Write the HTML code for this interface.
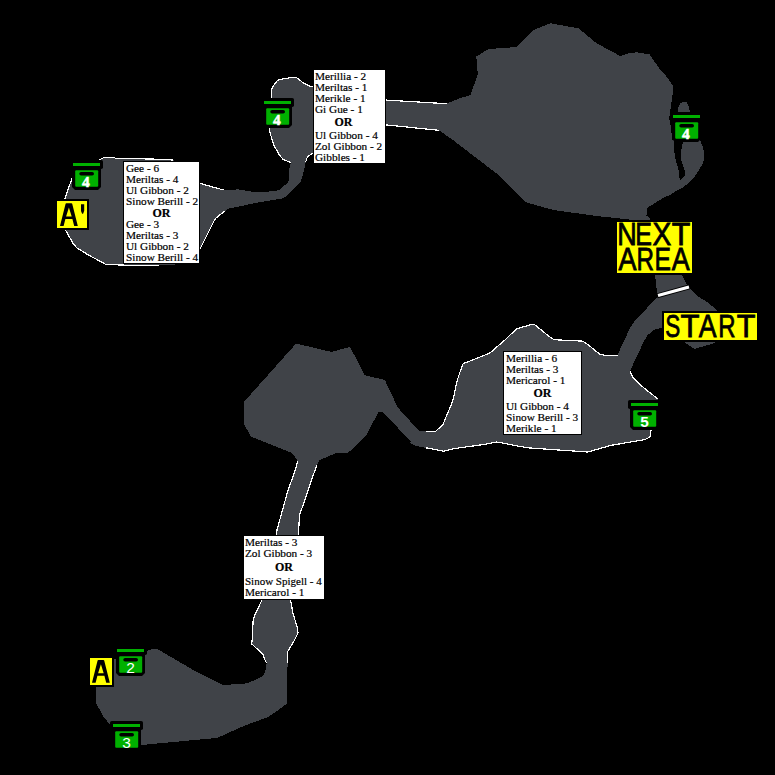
<!DOCTYPE html>
<html><head><meta charset="utf-8">
<style>
html,body{margin:0;padding:0;background:#000;width:775px;height:775px;overflow:hidden;}
#wrap{position:relative;width:775px;height:775px;background:#000;}
svg{position:absolute;left:0;top:0;}
.box{position:absolute;background:#fff;border:1px solid #000;font-family:"Liberation Serif",serif;font-size:11.25px;line-height:11px;color:#000;white-space:nowrap;-webkit-text-stroke:0.2px #000;}
.box div{position:absolute;left:0;}
.box .or{font-weight:bold;font-size:12px;}
</style></head><body><div id="wrap">
<svg width="775" height="775" viewBox="0 0 775 775">
<defs>
<g id="chest">
<rect x="-3" y="-3" width="33" height="9" rx="1.8" fill="#000"/>
<polygon points="-1,4 28,4 28,24 25,27 2,27 -1,24" fill="#000"/>
<rect x="0" y="0" width="27" height="3" fill="#00b000"/>
<rect x="2.2" y="7.2" width="23" height="16.6" rx="1" fill="#00b000"/>
<rect x="6.3" y="9" width="14.7" height="3.6" rx="1.8" fill="#000"/>
</g>
</defs>
<g fill="#404348" shape-rendering="crispEdges">
<!-- A' room + corridor + room 2 -->
<polygon points="101,159 104.5,157.4 114,157.3 116,158.5 152,159 173,160 199,183.2 223.5,190 238.6,189.4 252,191.6 265,191.8 273.6,191.2 278.7,190.2 287,183.3 288.8,181 289.5,168.5 290.7,162.6 283,159.2 279.4,155 273.7,145 269.5,131 270,110 271.6,98 271.6,90.5 272.4,87.4 277.4,80.5 280.5,79.3 286.5,78.3 292.5,77.2 296.4,77.4 298.7,79.3 303.7,83.2 310.3,86.3 313.5,87 330,92 385,100 385,125 330,150 314,153.7 312.5,153.4 307.4,156.7 305.8,161.7 304.5,168.5 302.5,175.7 300.4,181.9 292.2,190.2 286,196.4 281.4,198.7 260.5,202 240.3,206.2 228.6,208.7 224.4,211.2 215.2,218.8 199.2,250.7 199,263 159,265.5 135,265.5 106,264.5 89,255.3 77.4,248.3 73.6,244.4 65.8,230.5 65,198 72,178.6"/>
<!-- big room -->
<polygon points="385,100 446.6,103.7 460,98.1 470.4,95.1 477.8,74.3 476.3,56.5 488.2,49.1 516.4,47 534.2,29.8 550.5,23.3 578.7,28.4 596.5,43.2 620.2,56 627.7,53.5 636.8,52.3 649.7,54.5 658.7,67.7 668.4,78.7 673.5,87.1 672.3,96.8 671,105.8 669.7,114.8 669,117.4 671,127.7 672.3,140 673.9,138.9 674.7,156.7 677,164.4 679,172.2 679.7,180.7 675.5,191.5 670,195 664.8,197 647.4,207.7 646.4,215.5 651,219.5 629,218.5 620,218.5 596.7,216 553.4,210 525.5,202.2 497.6,174.3 451.2,138.7 438.8,130.3 385,124.8"/>
<!-- appendage -->
<polygon points="678.1,111 678.7,105.8 680.6,103.2 683.2,101.7 686.5,102 688.4,105.2 689.7,111 695,125 700.2,140.4 702.2,145.1 704.1,152 704.5,158.2 702.6,163.6 698.7,170.6 694,177.6 688.6,183 682.4,187.6 675.5,191.5 679.7,180.7 685.5,174.5 684.4,169.1 681.7,162.1 680.5,154.3 682.8,142.4 680,138 676,125"/>
<!-- neck -->
<polygon points="629,218 650,219 660,230 681,273 687.4,285.5 689,287 658,295.5 657.2,294.8 655.2,275.4 645,245 630,225"/>
<!-- START room -->
<polygon points="453.5,398.2 456.5,382.7 460.3,371.1 463.2,363.4 469,361.4 488.4,353.7 491.3,351.8 505.8,339.2 516.4,328.9 531.9,324.3 534.8,324.7 545.4,333.4 552.2,338.8 556,339.8 582.3,341.1 586.1,343.2 589.4,345.8 599.7,354.2 603.5,355.1 617.7,355.1 621.6,345.8 625.5,338 629.4,329 634.5,321.3 641,314.9 651.8,302.5 658,296 689,287 696.7,295.5 709,303.3 716.8,310.2 718,313 716,340 715.3,342.8 694.4,349 684.3,342 662,327.7 653.9,329.7 647.4,335.5 643.5,341.9 638.4,353.5 633.2,363.9 630,371.6 631.3,374.2 633.2,378 638.4,383.2 646.1,389.7 652.6,394.8 658.4,399.4 655,420 651,430 650,436.9 644.9,439.6 624.8,443 611.3,445.3 587.8,452 540,448.7 527.4,447.8 514,445.3 504,443.3 496.4,442 483.8,444.5 465.4,447 453.6,448.7 443.6,451.2 435.2,449.5 425.9,447.8 415,445.6 410,442.8 417.5,431 425.9,431.5 435.2,431.9 437.7,429.4 442.7,425.2 446.1,416.8 451.1,405"/>
<!-- middle-left room -->
<polygon points="296.1,343.5 331.6,352 350,346.8 364.8,375.2 384.8,380 397.7,407.4 418.7,430.6 426.8,432.6 435.2,431.9 437.7,429.4 442.7,425.2 446.1,416.8 451.1,405 453.6,400 455,440 443.6,451.2 435.2,449.5 425.9,447.8 415,445.6 410.6,441.3 383.2,412.3 378.4,412.3 365.5,436.5 347.7,453.2 335.3,453.4 326.8,457 319,460.5 316.9,465.2 297.7,461.2 295.6,457.7 291.3,452.7 270,444.2 251,436.5 243.5,423.5 243.5,402.6 247.7,397.7"/>
<!-- vertical corridor + bottom-left room -->
<polygon points="297.7,461.2 316.9,465.2 312.6,476.9 308.4,489.7 304.1,502.4 299.8,513.8 299.1,522.3 298.4,536 324,536 324,599 290.7,600.4 293,613.6 296.9,626 298,633 294.6,640 287.6,651.6 287.6,663.2 286.8,703.5 279,709.7 268,717 243.7,726 217.3,737.9 141.5,745 110.1,724.7 103.5,716.7 95.6,702.2 95.6,686.3 114,659 144.5,651.9 153.8,648.5 157.8,649.3 196.1,671.7 222.5,684.9 229.5,684.6 246.5,683.4 252.7,681 262,676.4 265.1,672.5 266.7,663.2 264.3,658.6 262.8,653.9 255.8,647.7 251.6,643.8 252.7,636.1 253,621.4 255,614.4 258.9,606.6 261.7,600.4 244,599 244,536 276.4,535.1 277.1,529.4 280.7,516.6 284.2,503.9 287.8,491.1 291.3,481.1 294.9,471.2"/>
</g>
<g fill="none" stroke="#fff" stroke-width="1.2" stroke-linejoin="round" shape-rendering="crispEdges">
<polyline points="173,160 152,159 116,158.5 114,157.3 104.5,157.4 101,159 72,178.6 65,198 65.4,215 65.8,230.5 73.6,244.4 77.4,248.3 89,255.3 106,264.5 135,265.5 159,265.5"/>
<polyline points="199.2,183.2 223.5,190"/>
<polyline points="199.2,250.7 215.2,218.8 224.4,211.2"/>
<polyline points="290.7,162.6 283,159.2 279.4,155 273.7,145 269.5,131 270,110 271.6,98 271.6,90.5 272.4,87.4 277.4,80.5 280.5,79.3 286.5,78.3 292.5,77.2 296.4,77.4 298.7,79.3 303.7,83.2 310.3,86.3 313.5,87"/>
<polyline points="305.8,161.7 307.4,156.7 312.5,153.4 314,153.7"/>
<polyline points="385,100 446.6,103.7"/>
<polyline points="385,124.8 438.8,130.3"/>
<polyline points="425.9,431.5 435.2,431.9 437.7,429.4 442.7,425.2 446.1,416.8 451.1,405 453.5,398.2 456.5,382.7 460.3,371.1 463.2,363.4 469,361.4 488.4,353.7 491.3,351.8 505.8,339.2 516.4,328.9 531.9,324.3 534.8,324.7 545.4,333.4 552.2,338.8 556,339.8 582.3,341.1 586.1,343.2 589.4,345.8 599.7,354.2 603.5,355.1 617.7,355.1"/>
<polyline points="630,371.6 631.3,374.2 633.2,378 638.4,383.2 646.1,389.7 652.6,394.8 658.4,399.4"/>
<polyline points="651,430 650,436.9 644.9,439.6 624.8,443 611.3,445.3 587.8,452 540,448.7 527.4,447.8 514,445.3 504,443.3 496.4,442 483.8,444.5 465.4,447 453.6,448.7 443.6,451.2 435.2,449.5 425.9,447.8"/>
<polyline points="297.7,461.2 294.9,471.2 291.3,481.1 287.8,491.1 284.2,503.9 280.7,516.6 277.1,529.4 276.4,535.1"/>
<polyline points="316.9,465.2 312.6,476.9 308.4,489.7 304.1,502.4 299.8,513.8 299.1,522.3 298.4,535.1"/>
<polyline points="261.7,600.4 258.9,606.6 255,614.4 253,621.4 252.7,636.1 251.6,643.8 255.8,647.7 262.8,653.9 264.3,658.6 266.7,663.2"/>
<polyline points="290.7,600.4 293,613.6 296.9,626 298,633 294.6,640 287.6,651.6 287.6,663.2"/>
</g>
<line x1="657" y1="295.8" x2="690" y2="286.7" stroke="#000" stroke-width="5"/>
<line x1="658" y1="295.5" x2="689" y2="287" stroke="#fff" stroke-width="3"/>
<!-- chests -->
<g font-family="Liberation Sans, sans-serif" fill="#fff" text-anchor="middle">
<g transform="translate(73,163)"><use href="#chest"/><text x="12.8" y="23.8" font-family="Liberation Serif, serif" font-weight="bold" font-size="15.5" stroke="#fff" stroke-width="0.5">4</text></g>
<g transform="translate(264,101)"><use href="#chest"/><text x="12.8" y="23.8" font-family="Liberation Serif, serif" font-weight="bold" font-size="15.5" stroke="#fff" stroke-width="0.5">4</text></g>
<g transform="translate(673,115)"><use href="#chest"/><text x="12.8" y="23.8" font-family="Liberation Serif, serif" font-weight="bold" font-size="15.5" stroke="#fff" stroke-width="0.5">4</text></g>
<g transform="translate(631,403)"><use href="#chest"/><text x="13.5" y="23.8" font-weight="bold" font-size="15.3">5</text></g>
<g transform="translate(117,649)"><use href="#chest"/><text x="13.5" y="23.8" font-size="15.5">2</text></g>
<g transform="translate(113,724)"><use href="#chest"/><text x="13.5" y="23.8" font-size="15.5">3</text></g>
</g>
<!-- labels -->
<g fill="#ff0" stroke="#000" stroke-width="2">
<rect x="56" y="200" width="32" height="29"/>
<rect x="89" y="657" width="24" height="29"/>
<rect x="616" y="221" width="77" height="53"/>
<rect x="663" y="312" width="95" height="29"/>
</g>
<g font-family="Liberation Sans, sans-serif" fill="#000" stroke="#000" stroke-width="0.9">
<path d="M0,0 L5.6,-22.2 Q5.8,-22.8 6.4,-22.8 L11.4,-22.8 Q12,-22.8 12.2,-22.2 L17.8,0 L14.2,0 L12.4,-7 L5.4,-7 L3.6,0 Z M6.1,-9.6 L8.9,-18.5 L11.7,-9.6 Z" transform="translate(60,226)" stroke="none" fill-rule="evenodd"/>
<polygon points="81,204.2 84.2,204.2 84.2,210.8 83.1,213.8 82.1,213.8 81,211" stroke="none"/>
<path d="M0,0 L5.6,-22.2 Q5.8,-22.8 6.4,-22.8 L11.4,-22.8 Q12,-22.8 12.2,-22.2 L17.8,0 L14.2,0 L12.4,-7 L5.4,-7 L3.6,0 Z M6.1,-9.6 L8.9,-18.5 L11.7,-9.6 Z" transform="translate(92,682.8)" stroke="none" fill-rule="evenodd"/>
<g stroke-width="0.8">
<text font-size="30.52" transform="translate(617.14,245.4) scale(0.885,1)">N</text>
<text font-size="30.52" transform="translate(635.18,245.4) scale(0.819,1)">E</text>
<text font-size="30.52" transform="translate(652.62,245.4) scale(0.924,1)">X</text>
<text font-size="30.52" transform="translate(671.73,245.4) scale(0.996,1)">T</text>
<text font-size="31.4" transform="translate(618.39,270.1) scale(0.860,1)">A</text>
<text font-size="31.4" transform="translate(636.52,270.1) scale(0.772,1)">R</text>
<text font-size="31.4" transform="translate(654.39,270.1) scale(0.786,1)">E</text>
<text font-size="31.4" transform="translate(671.69,270.1) scale(0.856,1)">A</text>
<text font-size="32.12" transform="translate(665.15,337.4) scale(0.701,1)">S</text>
<text font-size="32.12" transform="translate(680.40,337.4) scale(0.969,1)">T</text>
<text font-size="32.12" transform="translate(698.78,337.4) scale(0.828,1)">A</text>
<text font-size="32.12" transform="translate(718.33,337.4) scale(0.746,1)">R</text>
<text font-size="32.12" transform="translate(736.81,337.4) scale(0.954,1)">T</text>
</g>
</g>
</svg>

<div class="box" style="left:123px;top:161px;width:75px;height:101px;">
<div style="top:1px;left:2px">Gee - 6</div>
<div style="top:12px;left:2px">Meriltas - 4</div>
<div style="top:23px;left:2px">Ul Gibbon - 2</div>
<div style="top:34px;left:2px">Sinow Berill - 2</div>
<div class="or" style="top:45.5px;left:0;width:75px;text-align:center">OR</div>
<div style="top:57px;left:2px">Gee - 3</div>
<div style="top:68px;left:2px">Meriltas - 3</div>
<div style="top:79px;left:2px">Ul Gibbon - 2</div>
<div style="top:90px;left:2px">Sinow Berill - 4</div>
</div>

<div class="box" style="left:313px;top:69px;width:71px;height:93px;">
<div style="top:1px;left:1px">Merillia - 2</div>
<div style="top:12px;left:1px">Meriltas - 1</div>
<div style="top:23px;left:1px">Merikle - 1</div>
<div style="top:33.5px;left:1px">Gi Gue - 1</div>
<div class="or" style="top:47px;left:20.5px">OR</div>
<div style="top:60px;left:1px">Ul Gibbon - 4</div>
<div style="top:71px;left:1px">Zol Gibbon - 2</div>
<div style="top:82px;left:1px">Gibbles - 1</div>
</div>

<div class="box" style="left:503px;top:351px;width:77px;height:82px;">
<div style="top:1px;left:2px">Merillia - 6</div>
<div style="top:12px;left:2px">Meriltas - 3</div>
<div style="top:23px;left:2px">Mericarol - 1</div>
<div class="or" style="top:36px;left:0;width:77px;text-align:center">OR</div>
<div style="top:49px;left:2px">Ul Gibbon - 4</div>
<div style="top:60px;left:2px">Sinow Berill - 3</div>
<div style="top:71px;left:2px">Merikle - 1</div>
</div>

<div class="box" style="left:243px;top:535px;width:80px;height:63px;">
<div style="top:1px;left:1px">Meriltas - 3</div>
<div style="top:12px;left:1px">Zol Gibbon - 3</div>
<div class="or" style="top:26px;left:0;width:80px;text-align:center">OR</div>
<div style="top:40px;left:1px;font-size:11px">Sinow Spigell - 4</div>
<div style="top:51px;left:1px">Mericarol - 1</div>
</div>

</div></body></html>
